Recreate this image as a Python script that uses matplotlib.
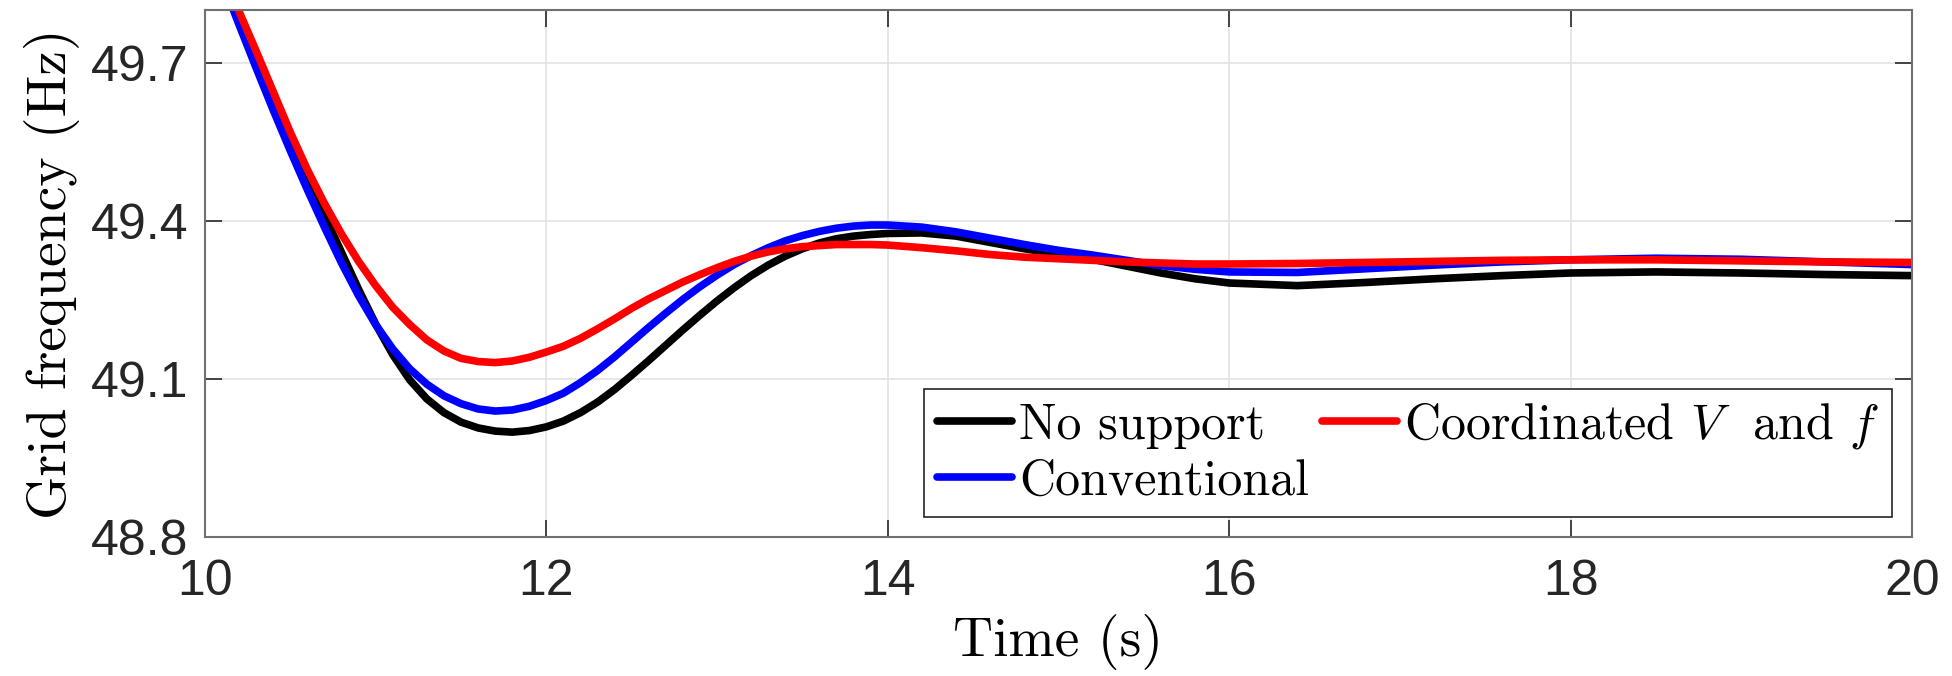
import matplotlib
matplotlib.use("Agg")
import matplotlib.pyplot as plt

# time (s) and grid frequency (Hz)
t = [10.1, 10.2, 10.3, 10.4, 10.5, 10.6, 10.7, 10.8, 10.9, 11.0,
     11.1, 11.2, 11.3, 11.4, 11.5, 11.6, 11.7, 11.8, 11.9, 12.0,
     12.1, 12.2, 12.3, 12.4, 12.5, 12.6, 12.7, 12.8, 12.9, 13.0,
     13.1, 13.2, 13.3, 13.4, 13.5, 13.6, 13.7, 13.8, 13.9, 14.0,
     14.2, 14.4, 14.6, 14.8, 15.0, 15.2, 15.4, 15.6, 15.8, 16.0,
     16.4, 16.8, 17.2, 17.6, 18.0, 18.5, 19.0, 19.5, 20.0]

f_none = [49.865, 49.789, 49.716, 49.642, 49.565, 49.486, 49.411, 49.340, 49.270, 49.204,
          49.146, 49.098, 49.062, 49.036, 49.018, 49.007, 49.001, 48.999, 49.002, 49.009,
          49.020, 49.036, 49.056, 49.080, 49.107, 49.135, 49.164, 49.193, 49.221, 49.248,
          49.273, 49.296, 49.316, 49.333, 49.347, 49.358, 49.366, 49.371, 49.374, 49.376,
          49.377, 49.371, 49.359, 49.347, 49.337, 49.327, 49.314, 49.301, 49.290, 49.282,
          49.277, 49.283, 49.29, 49.296, 49.301, 49.303, 49.301, 49.298, 49.296]

f_conv = [49.855, 49.772, 49.690, 49.610, 49.533, 49.459, 49.388, 49.320, 49.258, 49.203,
          49.157, 49.119, 49.090, 49.068, 49.053, 49.043, 49.039, 49.041, 49.048, 49.059,
          49.073, 49.093, 49.116, 49.142, 49.170, 49.198, 49.225, 49.251, 49.275, 49.297,
          49.317, 49.334, 49.349, 49.362, 49.372, 49.380, 49.386, 49.390, 49.392, 49.392,
          49.388, 49.379, 49.367, 49.355, 49.344, 49.335, 49.325, 49.315, 49.308, 49.303,
          49.302, 49.309, 49.316, 49.322, 49.326, 49.329, 49.327, 49.322, 49.317]

f_coord = [49.873, 49.797, 49.722, 49.645, 49.568, 49.497, 49.433, 49.375, 49.323, 49.277,
           49.236, 49.203, 49.174, 49.153, 49.139, 49.133, 49.131, 49.134, 49.141, 49.151,
           49.162, 49.177, 49.195, 49.214, 49.234, 49.252, 49.268, 49.284, 49.298, 49.311,
           49.323, 49.333, 49.341, 49.347, 49.351, 49.353, 49.355, 49.355, 49.355, 49.354,
           49.349, 49.343, 49.336, 49.331, 49.328, 49.325, 49.322, 49.320, 49.318, 49.318,
           49.319, 49.321, 49.323, 49.325, 49.326, 49.326, 49.324, 49.322, 49.321]

labels = ['No support', 'Conventional', 'Coordinated $V$  and $f$']
colors = ['black', '#0000ff', '#ff0000']
xticks = [10, 12, 14, 16, 18, 20]
yticks = [48.8, 49.1, 49.4, 49.7]

plt.rcParams['mathtext.fontset'] = 'cm'
plt.rcParams['font.family'] = ['Liberation Sans', 'DejaVu Sans']
plt.rcParams['axes.unicode_minus'] = False
serif = 'cmr10'

fig = plt.figure(figsize=(19.52, 6.76), dpi=100)
ax = fig.add_axes([0.105, 0.2056, 0.8745, 0.7796])

for y, c, lab in zip([f_none, f_conv, f_coord], colors, labels):
    ax.plot(t, y, color=c, lw=5.5, label=lab, solid_capstyle='round')

ax.set_xlim(10, 20)
ax.set_ylim(48.8, 49.8)
ax.set_xticks(xticks)
ax.set_yticks(yticks)
ax.set_yticklabels(['%.1f' % v for v in yticks])
ax.grid(True, color='#e3e3e3', lw=1.2)
ax.set_axisbelow(True)
ax.tick_params(direction='in', length=12, width=1.2, color='#262626',
               labelsize=36, labelcolor='#262626', top=True, right=True)
ax.tick_params(axis='x', pad=16)
ax.tick_params(axis='y', pad=12)
for s in ax.spines.values():
    s.set_color('#707070')
    s.set_linewidth(1.5)

ax.set_xlabel('Time (s)', fontsize=40, family=serif, labelpad=6)
ax.set_ylabel('Grid frequency (Hz)', fontsize=40, family=serif, labelpad=8)

leg = ax.legend(ncol=2, loc='lower right', prop={'family': serif, 'size': 36},
                handlelength=1.5, handletextpad=0.15, columnspacing=0.25,
                labelspacing=0.2, borderpad=0.25, borderaxespad=0.4,
                fancybox=False, framealpha=1, edgecolor='#262626')
leg.get_frame().set_linewidth(1.2)

fig.savefig('out.png', dpi=100)
